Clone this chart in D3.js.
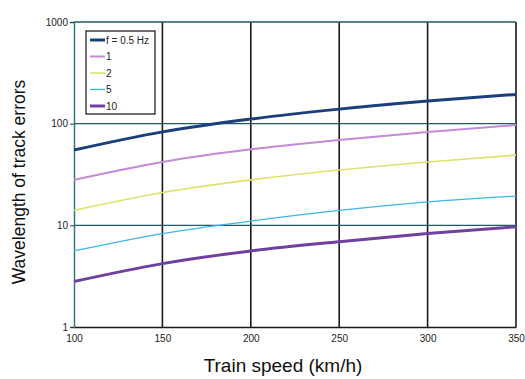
<!DOCTYPE html>
<html>
<head>
<meta charset="utf-8">
<script src="https://cdn.jsdelivr.net/npm/d3@7"></script>
<style>
  body { margin: 0; background: #fff; }
  svg { font-family: "Liberation Sans", Arial, sans-serif; }
</style>
</head>
<body>
<svg width="525" height="379"></svg>
<script>
// values
const speeds = [100, 150, 200, 250, 300, 350];
const f05 = [55, 83, 111, 139, 167, 194];
const f1 = [28, 42, 56, 69, 83, 97];
const f2 = [14, 21, 28, 35, 42, 49];
const f5 = [5.6, 8.3, 11, 14, 17, 19.4];
const f10 = [2.8, 4.2, 5.6, 6.9, 8.3, 9.7];
const yTicks = [1, 10, 100, 1000];
const xTicks = [100, 150, 200, 250, 300, 350];
const seriesNames = ["f = 0.5 Hz", "1", "2", "5", "10"];

const series = [
  {name: seriesNames[0], values: f05, color: "#1b3f7c", width: 3},
  {name: seriesNames[1], values: f1, color: "#c48ad6", width: 2},
  {name: seriesNames[2], values: f2, color: "#dde36a", width: 1.6},
  {name: seriesNames[3], values: f5, color: "#3db6e6", width: 1.3},
  {name: seriesNames[4], values: f10, color: "#7040a0", width: 3}
];

const svg = d3.select("svg");
const plotL = 74, plotR = 516, plotT = 22, plotB = 327;

const x = d3.scaleLinear().domain([100, 350]).range([plotL, plotR]);
const y = d3.scaleLog().domain([1, 1000]).range([plotB, plotT]);

// grid
svg.append("g").selectAll("line")
  .data([150, 200, 250, 300, 350])
  .enter().append("line")
  .attr("x1", d => x(d)).attr("x2", d => x(d))
  .attr("y1", plotT).attr("y2", plotB)
  .attr("stroke", "#1a1a1a").attr("stroke-width", 1.6);

svg.append("g").selectAll("line")
  .data([10, 100, 1000])
  .enter().append("line")
  .attr("x1", plotL).attr("x2", plotR)
  .attr("y1", d => y(d)).attr("y2", d => y(d))
  .attr("stroke", "#1e5a6a").attr("stroke-width", 1.4);

// axes
const xAxis = svg.append("g")
  .attr("transform", `translate(0,${plotB})`)
  .call(d3.axisBottom(x).tickValues(xTicks).tickSize(0).tickPadding(8).tickFormat(d3.format("d")));
const yAxis = svg.append("g")
  .attr("transform", `translate(${plotL},0)`)
  .call(d3.axisLeft(y).tickValues(yTicks).tickSize(4).tickPadding(2).tickFormat(d3.format("d")));

[xAxis, yAxis].forEach(a => {
  a.select(".domain").attr("stroke", "#1a1a1a").attr("stroke-width", 1.4);
  a.selectAll("text").attr("font-size", 10).attr("fill", "#222");
});
yAxis.select(".domain").attr("stroke", "#2b6f86");
yAxis.selectAll(".tick line").attr("stroke", "#333");

// curves
const line = d3.line()
  .x((d, i) => x(speeds[i]))
  .y(d => y(d))
  .curve(d3.curveMonotoneX);

svg.append("g").selectAll("path")
  .data(series)
  .enter().append("path")
  .attr("d", d => line(d.values))
  .attr("fill", "none")
  .attr("stroke", d => d.color)
  .attr("stroke-width", d => d.width);

// legend
const legend = svg.append("g").attr("transform", "translate(86,31)");
legend.append("rect")
  .attr("width", 69).attr("height", 83)
  .attr("fill", "#fff").attr("stroke", "#111").attr("stroke-width", 1.2);
const item = legend.selectAll("g.item")
  .data(series)
  .enter().append("g")
  .attr("class", "item")
  .attr("transform", (d, i) => `translate(0,${9 + i * 16.5})`);
item.append("line")
  .attr("x1", 4).attr("x2", 19)
  .attr("stroke", d => d.color)
  .attr("stroke-width", d => d.width);
item.append("text")
  .attr("x", 20).attr("dy", "0.35em")
  .attr("font-size", 10).attr("fill", "#222")
  .text(d => d.name);

// axis titles
svg.append("text")
  .attr("x", 283).attr("y", 372)
  .attr("text-anchor", "middle")
  .attr("font-size", 19).attr("fill", "#111")
  .text("Train speed (km/h)");
svg.append("text")
  .attr("transform", "translate(25,182) rotate(-90)")
  .attr("text-anchor", "middle")
  .attr("font-size", 17.5).attr("fill", "#111")
  .text("Wavelength of track errors");
</script>
</body>
</html>
